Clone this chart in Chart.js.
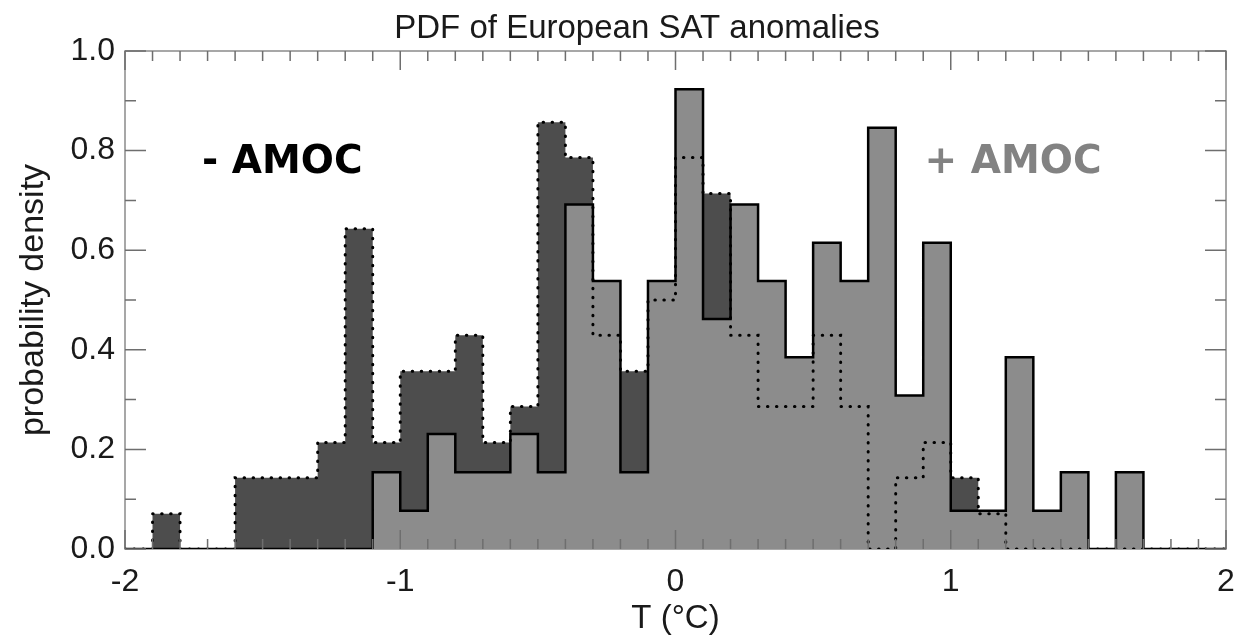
<!DOCTYPE html>
<html lang="en">
<head>
<meta charset="UTF-8">
<title>PDF of European SAT anomalies</title>
<script src="https://cdn.jsdelivr.net/npm/chart.js"></script>
<style>
  body { margin: 0; background: #fff; }
</style>
</head>
<body>
<canvas id="pdfChart" width="1237" height="636"></canvas>
<script>
// bin left edges run from -2.0 to 1.9, width 0.1
const binStart = -2;
const binWidth = 0.1;

// - AMOC (dark, dotted outline)
const minusAmoc = [
  0, 0.071, 0, 0, 0.143, 0.143, 0.143, 0.214, 0.643, 0.214,
  0.357, 0.357, 0.429, 0.214, 0.286, 0.857, 0.786, 0.429, 0.357, 0.5,
  0.786, 0.714, 0.429, 0.286, 0.286, 0.429, 0.286, 0, 0.143, 0.214,
  0.143, 0.071, 0, 0, 0, 0, 0, 0, 0, 0
];

// + AMOC (light, solid outline)
const plusAmoc = [
  0, 0, 0, 0, 0, 0, 0, 0, 0, 0.154,
  0.077, 0.231, 0.154, 0.154, 0.231, 0.154, 0.692, 0.538, 0.154, 0.538,
  0.923, 0.462, 0.692, 0.538, 0.385, 0.615, 0.538, 0.846, 0.308, 0.615,
  0.077, 0.077, 0.385, 0.077, 0.154, 0, 0.154, 0, 0, 0
];

const xTicks = [-2, -1, 0, 1, 2];
const yTicks = [0, 0.2, 0.4, 0.6, 0.8, 1.0];

// step outline: each bin's value holds from its left edge to the next edge
function toSteps(values) {
  const pts = values.map((v, i) => ({ x: binStart + i * binWidth, y: v }));
  pts.push({ x: binStart + values.length * binWidth, y: 0 });
  return pts;
}
const minusPts = toSteps(minusAmoc);
const plusPts = toSteps(plusAmoc);

const labelFont = { family: 'Liberation Sans', size: 32 };

// box, inward ticks, title and the two labels
const frame = {
  id: 'frame',
  beforeDatasetsDraw(chart) {
    const { ctx, chartArea: a } = chart;
    ctx.save();
    ctx.strokeStyle = '#8a8a8a';
    ctx.lineWidth = 1.5;
    ctx.strokeRect(a.left, a.top, a.right - a.left, a.bottom - a.top);
    ctx.restore();
  },
  afterDatasetsDraw(chart) {
    const { ctx, chartArea: a, scales: { x, y } } = chart;
    ctx.save();
    ctx.strokeStyle = '#6e6e6e';
    ctx.lineWidth = 1.5;
    ctx.beginPath();
    for (let i = 0; i <= 40; i++) {
      const v = x.min + i * 0.1;
      const px = x.getPixelForValue(v);
      const len = i % 10 === 0 ? 19 : 10;
      ctx.moveTo(px, a.bottom); ctx.lineTo(px, a.bottom - len);
      ctx.moveTo(px, a.top); ctx.lineTo(px, a.top + len);
    }
    for (let i = 0; i <= 10; i++) {
      const py = y.getPixelForValue(y.min + i * 0.1);
      const len = i % 2 === 0 ? 21 : 11;
      ctx.moveTo(a.left, py); ctx.lineTo(a.left + len, py);
      ctx.moveTo(a.right, py); ctx.lineTo(a.right - len, py);
    }
    ctx.stroke();
    ctx.restore();
  },
  afterDraw(chart) {
    const { ctx, scales: { x, y } } = chart;
    ctx.save();
    ctx.fillStyle = '#1a1a1a';
    ctx.font = '33px "Liberation Sans"';
    ctx.textAlign = 'center';
    ctx.textBaseline = 'alphabetic';
    ctx.fillText('PDF of European SAT anomalies', 637, 38);

    ctx.textAlign = 'left';
    ctx.font = 'bold 39px "DejaVu Sans"';
    ctx.fillStyle = '#000';
    ctx.fillText('- AMOC', x.getPixelForValue(-1.72), y.getPixelForValue(0.755));
    ctx.fillStyle = '#828282';
    ctx.fillText('+ AMOC', x.getPixelForValue(0.905), y.getPixelForValue(0.755));
    ctx.restore();
  }
};

const ctx = document.getElementById('pdfChart').getContext('2d');
new Chart(ctx, {
  type: 'line',
  data: {
    datasets: [
      {
        // dotted outline of - AMOC, on top of everything
        label: '- AMOC outline',
        data: minusPts,
        stepped: 'before',
        borderColor: '#000',
        borderWidth: 3,
        borderDash: [0.5, 8.5],
        borderCapStyle: 'round',
        fill: false,
        pointRadius: 0,
        order: 1
      },
      {
        label: '+ AMOC',
        data: plusPts,
        stepped: 'before',
        borderColor: '#000',
        borderWidth: 2.5,
        backgroundColor: '#8c8c8c',
        fill: 'origin',
        pointRadius: 0,
        order: 2
      },
      {
        label: '- AMOC',
        data: minusPts,
        stepped: 'before',
        borderWidth: 0,
        borderColor: 'rgba(0,0,0,0)',
        backgroundColor: '#4d4d4d',
        fill: 'origin',
        pointRadius: 0,
        order: 3
      }
    ]
  },
  options: {
    responsive: false,
    animation: false,
    layout: { padding: { top: 51, right: 11, bottom: 0, left: 0 } },
    plugins: {
      legend: { display: false },
      tooltip: { enabled: false },
      title: { display: false }
    },
    scales: {
      x: {
        type: 'linear',
        min: -2,
        max: 2,
        grid: { display: false, drawTicks: false },
        border: { display: false },
        afterBuildTicks: s => { s.ticks = xTicks.map(v => ({ value: v })); },
        afterFit: s => { s.height = 87; s.paddingLeft = 0; s.paddingRight = 0; },
        ticks: {
          autoSkip: false,
          maxRotation: 0,
          padding: 14,
          color: '#1a1a1a',
          font: labelFont,
          callback: v => String(v)
        },
        title: {
          display: true,
          text: 'T (°C)',
          color: '#1a1a1a',
          font: { family: 'Liberation Sans', size: 33, lineHeight: 1 },
          padding: { top: 0, bottom: 1 }
        }
      },
      y: {
        min: 0,
        max: 1,
        grid: { display: false, drawTicks: false },
        border: { display: false },
        afterBuildTicks: s => { s.ticks = yTicks.map(v => ({ value: v })); },
        afterFit: s => { s.width = 125; },
        ticks: {
          autoSkip: false,
          padding: 10,
          color: '#1a1a1a',
          font: labelFont,
          callback: v => v.toFixed(1)
        },
        title: {
          display: true,
          text: 'probability density',
          color: '#1a1a1a',
          font: { family: 'Liberation Sans', size: 34 },
          padding: { top: 13, bottom: 0 }
        }
      }
    }
  },
  plugins: [frame]
});
</script>
</body>
</html>
